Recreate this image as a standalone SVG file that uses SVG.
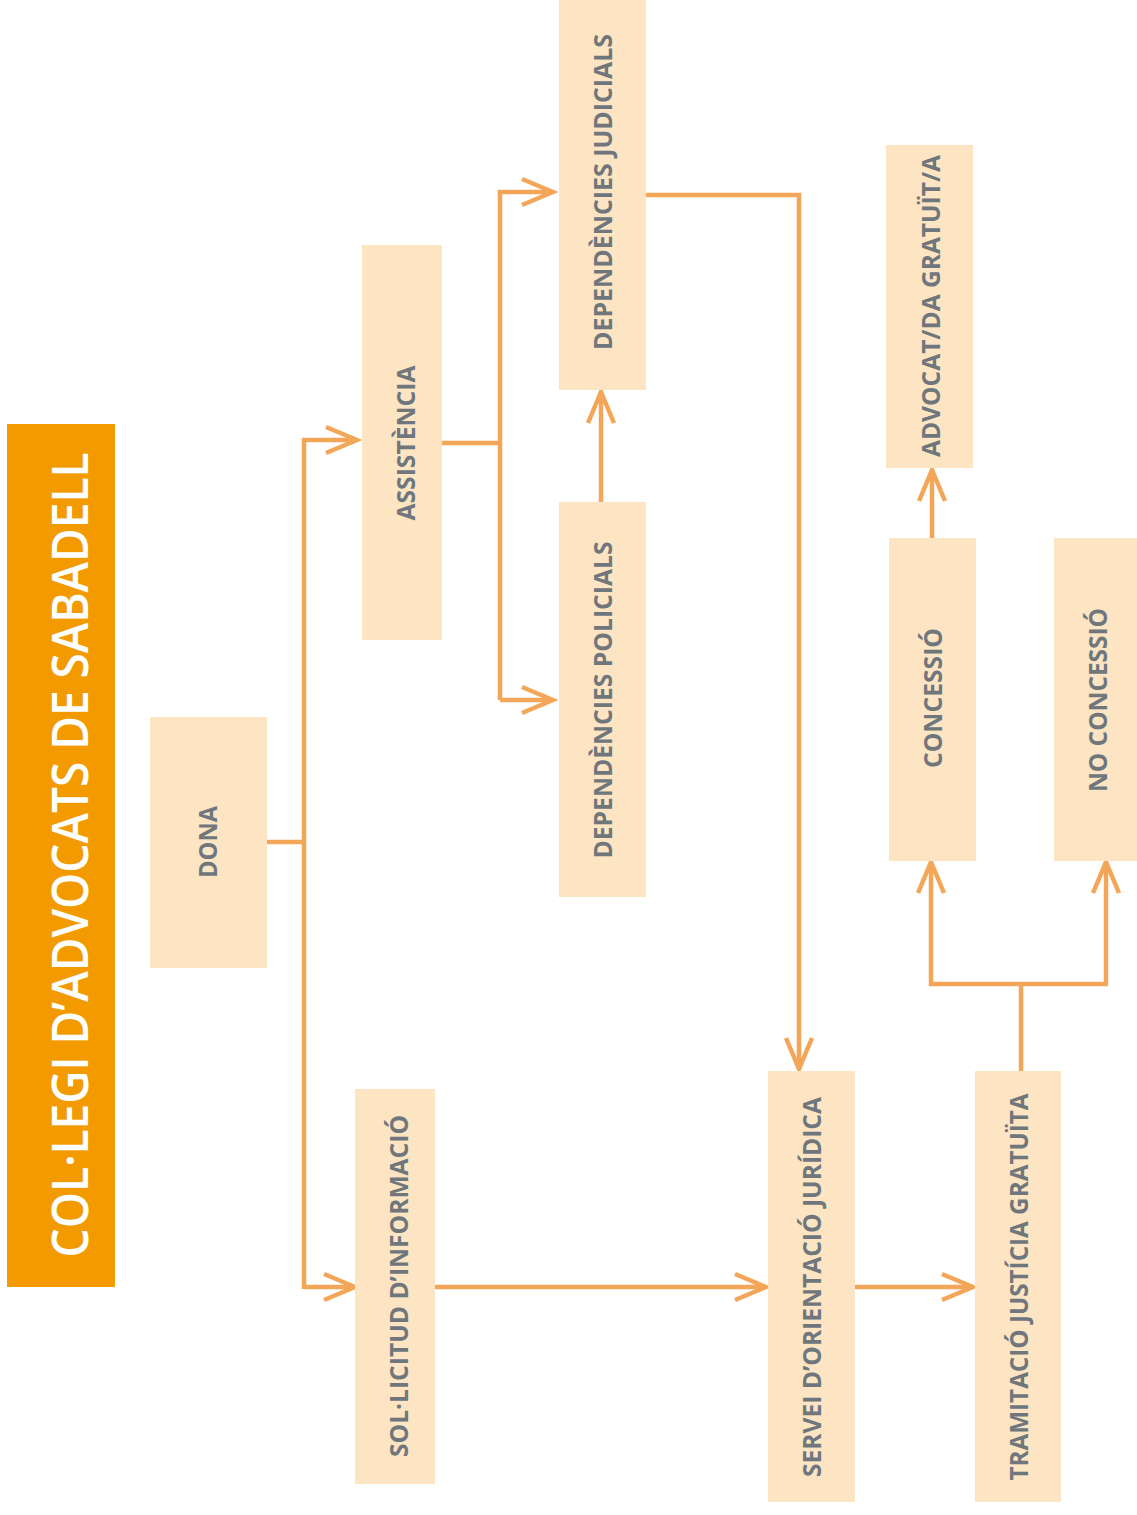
<svg xmlns="http://www.w3.org/2000/svg" width="1137" height="1515" viewBox="0 0 1137 1515">
<style>
.box{fill:#FDE5C3}
.lbl{font-family:"Open Sans","Liberation Sans",sans-serif;font-weight:700;font-size:25px;fill:#6F777D;text-anchor:middle}
.ttl{font-family:"Open Sans","Liberation Sans",sans-serif;font-weight:600;font-size:50px;fill:#FFFFFF;text-anchor:middle}
.ln{fill:none;stroke:#F4A658;stroke-width:4.5;stroke-linejoin:miter}
.ar{fill:none;stroke:#F4A658;stroke-width:4.5}
</style>
<defs>
<marker id="ah" markerUnits="userSpaceOnUse" markerWidth="40" markerHeight="40" viewBox="-4 -4 40 34" refX="31" refY="13" orient="auto">
<path class="ar" d="M0,0 L31,13 L0,26"/>
</marker>
</defs>
<rect x="7" y="424" width="108" height="863" fill="#F29A00"/>
<text class="ttl" transform="translate(88,855) rotate(-90)" textLength="805" lengthAdjust="spacingAndGlyphs">COL·LEGI D’ADVOCATS DE SABADELL</text>

<g id="connectors">
<path class="ln" d="M267,842 H304"/>
<path class="ln" d="M304,1289 V440 H357" marker-end="url(#ah)"/>
<path class="ln" d="M304,1287 H355" marker-end="url(#ah)"/>
<path class="ln" d="M442,443 H500"/>
<path class="ln" d="M500,700 V192 H553" marker-end="url(#ah)"/>
<path class="ln" d="M500,700 H553" marker-end="url(#ah)"/>
<path class="ln" d="M601,502 V392" marker-end="url(#ah)"/>
<path class="ln" d="M646,195 H799 V1069" marker-end="url(#ah)"/>
<path class="ln" d="M435,1287 H766" marker-end="url(#ah)"/>
<path class="ln" d="M855,1287 H973" marker-end="url(#ah)"/>
<path class="ln" d="M1021,1071 V984"/>
<path class="ln" d="M1108,984 H931 V862" marker-end="url(#ah)"/>
<path class="ln" d="M1106,984 V862" marker-end="url(#ah)"/>
<path class="ln" d="M932,538 V470" marker-end="url(#ah)"/>
</g>

<g id="dona"><rect class="box" x="150" y="717" width="117" height="251"/>
<text class="lbl" transform="translate(217,842) rotate(-90)" textLength="72" lengthAdjust="spacingAndGlyphs">DONA</text></g>
<g id="assistencia"><rect class="box" x="362" y="245" width="80" height="395"/>
<text class="lbl" transform="translate(415,443) rotate(-90)" textLength="155" lengthAdjust="spacingAndGlyphs">ASSISTÈNCIA</text></g>
<g id="sollicitud"><rect class="box" x="355" y="1089" width="80" height="395"/>
<text class="lbl" transform="translate(408,1286) rotate(-90)" textLength="342" lengthAdjust="spacingAndGlyphs">SOL·LICITUD D’INFORMACIÓ</text></g>
<g id="dep-judicials"><rect class="box" x="559" y="0" width="87" height="390"/>
<text class="lbl" transform="translate(612,192) rotate(-90)" textLength="316" lengthAdjust="spacingAndGlyphs">DEPENDÈNCIES JUDICIALS</text></g>
<g id="dep-policials"><rect class="box" x="559" y="502" width="87" height="395"/>
<text class="lbl" transform="translate(612,700) rotate(-90)" textLength="317" lengthAdjust="spacingAndGlyphs">DEPENDÈNCIES POLICIALS</text></g>
<g id="servei"><rect class="box" x="768" y="1071" width="87" height="431"/>
<text class="lbl" transform="translate(821,1287) rotate(-90)" textLength="380" lengthAdjust="spacingAndGlyphs">SERVEI D’ORIENTACIÓ JURÍDICA</text></g>
<g id="tramitacio"><rect class="box" x="975" y="1071" width="86" height="431"/>
<text class="lbl" transform="translate(1028,1287) rotate(-90)" textLength="387" lengthAdjust="spacingAndGlyphs">TRAMITACIÓ JUSTÍCIA GRATUÏTA</text></g>
<g id="advocat"><rect class="box" x="886" y="145" width="87" height="323"/>
<text class="lbl" transform="translate(940,306) rotate(-90)" textLength="302" lengthAdjust="spacingAndGlyphs">ADVOCAT/DA GRATUÏT/A</text></g>
<g id="concessio"><rect class="box" x="889" y="538" width="87" height="323"/>
<text class="lbl" transform="translate(942,698) rotate(-90)" textLength="140" lengthAdjust="spacingAndGlyphs">CONCESSIÓ</text></g>
<g id="no-concessio"><rect class="box" x="1054" y="538" width="83" height="323"/>
<text class="lbl" transform="translate(1107,700) rotate(-90)" textLength="184" lengthAdjust="spacingAndGlyphs">NO CONCESSIÓ</text></g>
</svg>
